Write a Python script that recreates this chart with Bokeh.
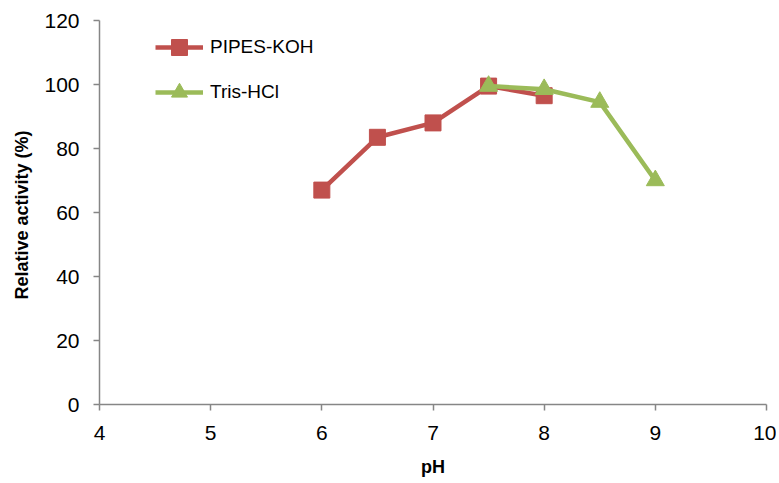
from bokeh.plotting import figure
from bokeh.models import Range1d, FixedTicker, Legend, LegendItem
from bokeh.embed import file_html
from bokeh.resources import INLINE

pipes_ph = [6, 6.5, 7, 7.5, 8]
pipes_act = [67, 83.5, 88, 99.5, 96.5]
tris_ph = [7.5, 8, 8.5, 9]
tris_act = [99.5, 98.5, 94.5, 70]
x_ticks = [4, 5, 6, 7, 8, 9, 10]
y_ticks = [0, 20, 40, 60, 80, 100, 120]

RED = "#C0504D"
GREEN = "#9BBB59"
AXIS = "#868686"
FONT = "Liberation Sans"

p = figure(width=776, height=483, output_backend="svg", toolbar_location=None,
           x_range=Range1d(4, 10), y_range=Range1d(0, 120),
           min_border_left=99, min_border_right=10, min_border_top=20, min_border_bottom=79)
p.outline_line_color = None
p.xgrid.visible = False
p.ygrid.visible = False

l1 = p.line(pipes_ph, pipes_act, line_color=RED, line_width=4.5)
s1 = p.scatter(pipes_ph, pipes_act, marker="square", size=16, fill_color=RED, line_color=RED)
l2 = p.line(tris_ph, tris_act, line_color=GREEN, line_width=4.5)
s2 = p.scatter(tris_ph, tris_act, marker="triangle", size=18, fill_color=GREEN, line_color=GREEN)

for ax in (p.xaxis[0], p.yaxis[0]):
    ax.axis_line_color = AXIS
    ax.axis_line_width = 1.5
    ax.major_tick_line_color = AXIS
    ax.major_tick_line_width = 1.5
    ax.major_tick_in = 0
    ax.major_tick_out = 6
    ax.minor_tick_line_color = None
    ax.major_label_text_font = FONT
    ax.major_label_text_font_size = "21px"
    ax.major_label_text_color = "#000000"
    ax.axis_label_text_font = FONT
    ax.axis_label_text_font_style = "bold"
    ax.axis_label_text_color = "#000000"

p.xaxis.ticker = FixedTicker(ticks=x_ticks)
p.yaxis.ticker = FixedTicker(ticks=y_ticks)
p.xaxis.axis_label = "pH"
p.yaxis.axis_label = "Relative activity  (%)"
p.xaxis.axis_label_text_font_size = "18px"
p.yaxis.axis_label_text_font_size = "18px"
p.xaxis.major_label_standoff = 15
p.yaxis.major_label_standoff = 14
p.xaxis.axis_label_standoff = 14
p.yaxis.axis_label_standoff = 9

legend = Legend(items=[LegendItem(label="PIPES-KOH", renderers=[l1, s1]),
                       LegendItem(label="Tris-HCl", renderers=[l2, s2])],
                location=(56, 292), orientation="vertical")
legend.border_line_color = None
legend.background_fill_alpha = 0
legend.padding = 0
legend.margin = 0
legend.spacing = 5
legend.glyph_width = 48
legend.glyph_height = 40
legend.label_height = 40
legend.label_standoff = 7
legend.label_text_font = FONT
legend.label_text_font_size = "19px"
legend.label_text_color = "#000000"
p.add_layout(legend, "center")

open("out.html", "w").write(file_html(p, INLINE))
